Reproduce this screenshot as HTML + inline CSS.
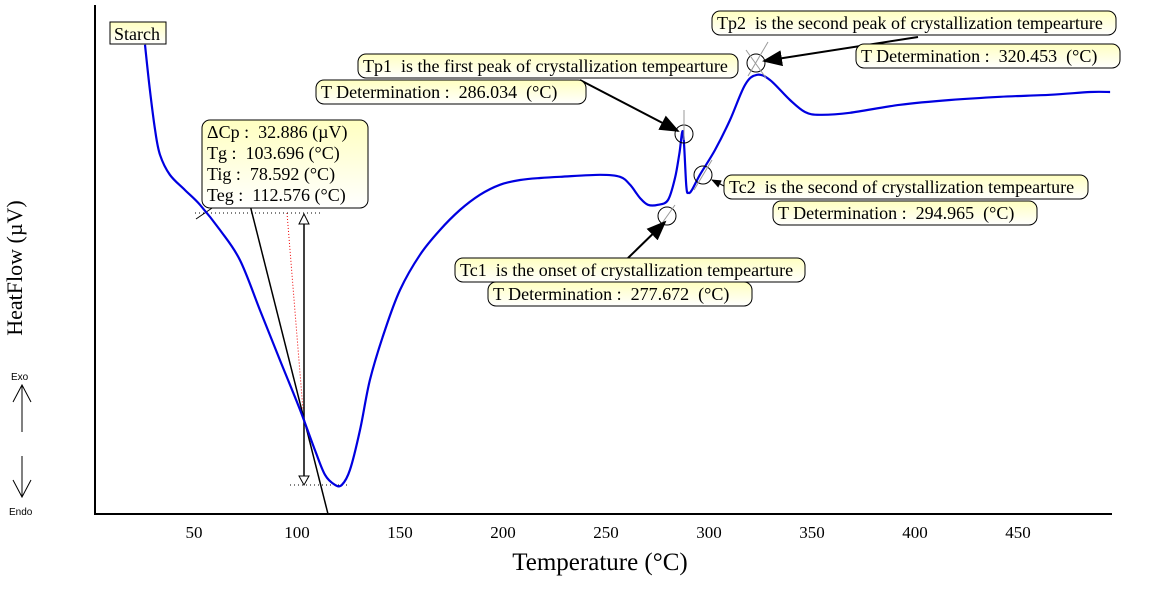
<!DOCTYPE html>
<html><head><meta charset="utf-8"><style>
body{margin:0;background:#fff;}
svg{display:block;font-family:"Liberation Serif",serif;}
#boxes text{white-space:pre;}
</style></head><body>
<svg id="chart" width="1160" height="591" viewBox="0 0 1160 591">
<defs>
<linearGradient id="bx" x1="0" y1="0" x2="0" y2="1"><stop offset="0" stop-color="#ffffc0"/><stop offset="1" stop-color="#ffffff"/></linearGradient>
<marker id="ah" markerWidth="10" markerHeight="8" refX="9" refY="4" orient="auto"><path d="M0,0 L10,4 L0,8 Z" fill="#000"/></marker>
</defs>
<g id="axes">
<line x1="95" y1="5" x2="95" y2="514" stroke="#000" stroke-width="2"/>
<line x1="94" y1="514" x2="1112" y2="514" stroke="#000" stroke-width="2"/>
</g>
<g id="ticks" font-size="17"></g>
<text x="600" y="570" font-size="25" text-anchor="middle">Temperature (°C)</text>
<text transform="translate(22,268) rotate(-90)" font-size="22" text-anchor="middle">HeatFlow (µV)</text>
<g font-family="Liberation Sans,sans-serif" font-size="10">
<text x="11" y="380">Exo</text><text x="9" y="515">Endo</text>
<path d="M22,385 V432 M13,402 L22,385 L31,402" stroke="#000" fill="none"/>
<path d="M22,456 V497 M13,480 L22,497 L31,480" stroke="#000" fill="none"/>
</g>
<g id="construct">
<line x1="250" y1="205" x2="328" y2="514" stroke="#000" stroke-width="1.5"/>
<line x1="196" y1="219" x2="218" y2="204" stroke="#000"/>
<line x1="287" y1="213" x2="303" y2="410" stroke="#e00" stroke-dasharray="1,2"/>
<line x1="195" y1="213" x2="320" y2="213" stroke="#000" stroke-dasharray="1,3"/>
<line x1="290" y1="485" x2="348" y2="485" stroke="#000" stroke-dasharray="1,3"/>
<line x1="304" y1="222" x2="304" y2="478" stroke="#000" stroke-width="1.5"/>
<path d="M299,224 L304,214 L309,224 Z M299,476 L304,485 L309,476 Z" fill="#fff" stroke="#000"/>
</g>
<path id="curve" fill="none" stroke="#0000e0" stroke-width="2.2"/>
<g fill="none" stroke="#000">
<circle cx="684" cy="134" r="9"/><circle cx="667" cy="216" r="9"/><circle cx="703" cy="175" r="9"/><circle cx="756" cy="63" r="9"/>
<line x1="684" y1="110" x2="684" y2="140" stroke="#999"/>
<line x1="660" y1="226" x2="675" y2="205" stroke="#999"/>
<line x1="694" y1="190" x2="712" y2="160" stroke="#999"/>
<line x1="746" y1="50" x2="766" y2="78" stroke="#999"/><line x1="748" y1="76" x2="768" y2="42" stroke="#999"/>
</g>
<g stroke="#000" stroke-width="2" marker-end="url(#ah)">
<line x1="580" y1="80" x2="678" y2="131"/>
<line x1="918" y1="37" x2="764" y2="61"/>
<line x1="628" y1="258" x2="665" y2="222"/>
<line x1="728" y1="188" x2="712" y2="180" stroke-width="1"/>
</g>
<g id="boxes" font-size="18"></g>
</svg>
<script>
const temps=[26.2,28.6,31.1,33.5,38.3,45.6,52.9,62.6,72.3,82,91.7,101.5,108.7,113.6,118.4,121.8,125.7,130.6,135.4,142.7,150,159.7,169.4,179.1,188.8,198.5,208.3,218,227.7,247.1,256.8,261.7,266.5,270.4,275.2,280.1,283.5,285.6,287.4,289,290,291.7,295.6,302.9,310.2,317.5,323.3,329.6,339.3,346.6,353.9,368.4,392.7,417,441.3,465.5,485,494.7];
const heat=[117.3,106,96,89.8,84.8,81,77.3,71,63.5,51,38.5,26,16,9.8,7.3,7.3,11,21,33.5,46,56,64.8,71,76,79.8,82.3,83.5,84,84.3,84.8,84.3,82.3,79,77.3,77.3,78.5,84,90,95.5,82,80.3,81,84.8,91,98.5,107.3,109.8,108.5,103.5,100.5,99.8,100.3,102.3,103.5,104.3,104.8,105.5,105.5];
const xTicks=[50,100,150,200,250,300,350,400,450];
const xS=t=>194+(t-50)*2.06;
const yS=v=>514-v*4;
const pts=temps.map((t,i)=>[xS(t),yS(heat[i])]);
let d='M'+pts[0][0].toFixed(1)+','+pts[0][1].toFixed(1);
for(let i=0;i<pts.length-1;i++){
const p0=pts[Math.max(0,i-1)],p1=pts[i],p2=pts[i+1],p3=pts[Math.min(pts.length-1,i+2)];
const k=1/6;
d+='C'+(p1[0]+(p2[0]-p0[0])*k).toFixed(1)+','+(p1[1]+(p2[1]-p0[1])*k).toFixed(1)+' '+(p2[0]-(p3[0]-p1[0])*k).toFixed(1)+','+(p2[1]-(p3[1]-p1[1])*k).toFixed(1)+' '+p2[0].toFixed(1)+','+p2[1].toFixed(1);}
document.getElementById('curve').setAttribute('d',d);
const tg=document.getElementById('ticks');
xTicks.forEach(t=>{
const tx=document.createElementNS('http://www.w3.org/2000/svg','text');


tx.setAttribute('x',xS(t));tx.setAttribute('y',538);tx.setAttribute('text-anchor','middle');tx.textContent=t;tg.appendChild(tx);});
const boxes=[
[110,22,56,22,['Starch'],'sample-label',0],
[202,120,166,88,['ΔCp :  32.886 (µV)','Tg :  103.696 (°C)','Tig :  78.592 (°C)','Teg :  112.576 (°C)'],'glass-transition-box',8],
[358,54,380,24,['Tp1  is the first peak of crystallization tempearture'],'tp1-label',8],
[316,80,270,24,['T Determination :  286.034  (°C)'],'tp1-value',8],
[712,11,404,24,['Tp2  is the second peak of crystallization tempearture'],'tp2-label',8],
[856,44,264,24,['T Determination :  320.453  (°C)'],'tp2-value',8],
[724,175,364,24,['Tc2  is the second of crystallization tempearture'],'tc2-label',8],
[773,201,264,24,['T Determination :  294.965  (°C)'],'tc2-value',8],
[455,258,350,24,['Tc1  is the onset of crystallization tempearture'],'tc1-label',8],
[488,282,264,24,['T Determination :  277.672  (°C)'],'tc1-value',8]];
const bg=document.getElementById('boxes');
boxes.forEach(b=>{
const g=document.createElementNS('http://www.w3.org/2000/svg','g');


const r=document.createElementNS('http://www.w3.org/2000/svg','rect');
r.setAttribute('x',b[0]);r.setAttribute('y',b[1]);r.setAttribute('width',b[2]);r.setAttribute('height',b[3]);r.setAttribute('rx',b[6]);
r.setAttribute('fill','url(#bx)');r.setAttribute('stroke','#000');g.appendChild(r);
b[4].forEach((s,i)=>{const t=document.createElementNS('http://www.w3.org/2000/svg','text');
t.setAttribute('x',b[0]+(b[6]?5:4));t.setAttribute('y',b[1]+18+i*21);t.textContent=s;g.appendChild(t);});
bg.appendChild(g);});
</script>
</body></html>
